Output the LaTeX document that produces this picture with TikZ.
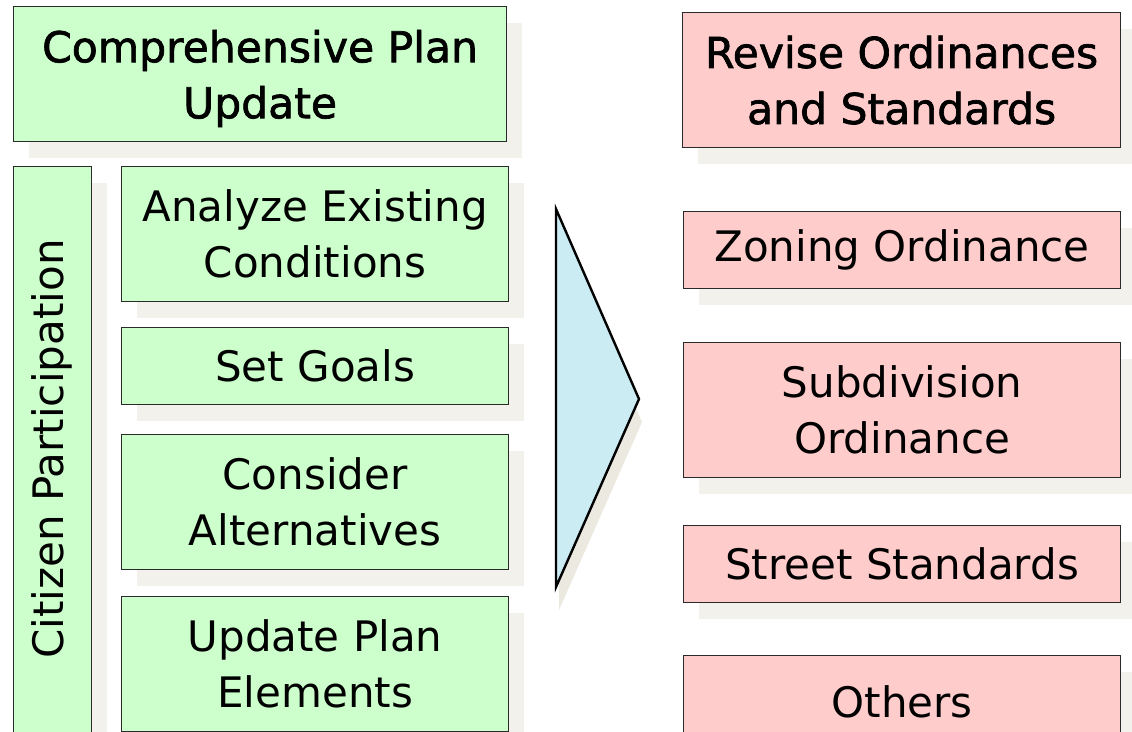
\documentclass[tikz,border=0pt]{standalone}
\usepackage{fontspec}
\setmainfont{DejaVu Sans}
\newfontfamily\headfont{DejaVu Sans}[FakeBold=1.6]
\usetikzlibrary{shadows}
\definecolor{gfill}{HTML}{CCFFCC}
\definecolor{pfill}{HTML}{FFCCCC}
\definecolor{bfill}{HTML}{CCECF4}
\definecolor{shad}{HTML}{F2F1EC}
\definecolor{tshad}{HTML}{EBE9E0}
\definecolor{edge}{HTML}{2A2A2A}
\tikzset{
  box/.style={draw=edge, line width=1.2pt, inner sep=0pt, anchor=north west, align=center,
    font=\fontsize{42}{56}\selectfont,
    drop shadow={shadow xshift=15pt, shadow yshift=-16pt, fill=shad, opacity=1}},
  gbox/.style={box, fill=gfill},
  pbox/.style={box, fill=pfill},
  headtext/.style={font=\headfont\fontsize{42.5}{56}\selectfont},
}
\begin{document}
\begin{tikzpicture}[x=1pt,y=-1pt]
\path[use as bounding box, clip] (0,0) rectangle (1132,731);
\fill[white] (0,0) rectangle (1132,731);
% left column
\node[gbox, headtext, text depth=0pt, minimum width=493pt, minimum height=135pt] (comp) at (13,6) {Comprehensive Plan\\Update};
\node[gbox, minimum width=78pt, minimum height=580pt] (cit) at (13,166) {};
\node[rotate=90, font=\fontsize{42}{56}\selectfont, inner sep=0pt] (citlabel) at (52,449) {Citizen Participation};
\node[gbox, minimum width=387pt, minimum height=135pt] (anal) at (121,166) {Analyze Existing\\Conditions};
\node[gbox, minimum width=387pt, minimum height=77pt] (goals) at (121,327) {Set Goals};
\node[gbox, minimum width=387pt, minimum height=135pt] (cons) at (121,434) {Consider\\Alternatives};
\node[gbox, minimum width=387pt, minimum height=135pt] (upd) at (121,596) {Update Plan\\Elements};
% arrow triangle
\coordinate (tt) at (556,209);
\coordinate (tb) at (556,587);
\coordinate (tp) at (639,399);
\fill[tshad] ([shift={(3,23)}]tt) -- ([shift={(3,23)}]tp) -- ([shift={(3,23)}]tb) -- cycle;
\draw[fill=bfill, line width=2.4pt, line join=miter] (tt) -- (tp) -- (tb) -- cycle;
% right column
\node[pbox, headtext, minimum width=438pt, minimum height=135pt] (rev) at (682,12) {Revise Ordinances\\and Standards};
\node[pbox, minimum width=437pt, minimum height=77pt] (zon) at (683,211) {Zoning Ordinance};
\node[pbox, minimum width=437pt, minimum height=135pt] (sub) at (683,342) {Subdivision\\Ordinance};
\node[pbox, minimum width=437pt, minimum height=77pt] (str) at (683,525) {Street Standards};
\node[pbox, minimum width=437pt, minimum height=92pt] (oth) at (683,655) {Others};
\end{tikzpicture}
\end{document}
